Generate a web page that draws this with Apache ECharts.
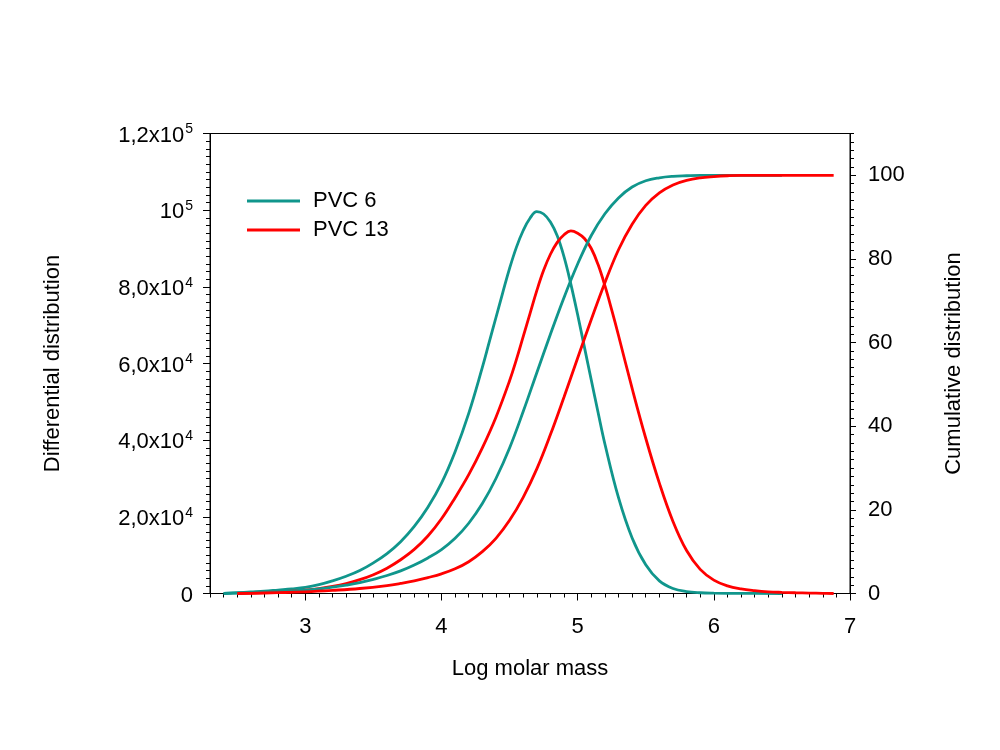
<!DOCTYPE html>
<html>
<head>
<meta charset="utf-8">
<script src="https://cdn.jsdelivr.net/npm/echarts@6/dist/echarts.min.js"></script>
<style>
html,body{margin:0;padding:0;background:#fff;}
#chart{width:1000px;height:750px;}
</style>
</head>
<body>
<div id="chart"></div>
<script>
// ---- data ----
const pvc6DiffX = [2.4, 2.5, 2.6, 2.7, 2.8, 2.9, 3.0, 3.1, 3.2, 3.3, 3.4, 3.5, 3.6, 3.7, 3.8, 3.9, 4.0, 4.1, 4.2, 4.3, 4.35, 4.4, 4.45, 4.5, 4.55, 4.6, 4.65, 4.7, 4.75, 4.8, 4.85, 4.9, 4.95, 5.0, 5.05, 5.1, 5.15, 5.2, 5.3, 5.4, 5.5, 5.6, 5.7, 5.8, 5.9, 6.0, 6.2, 6.5];
const pvc6DiffK = [0, 0.2, 0.4, 0.6, 0.9, 1.2, 1.6, 2.3, 3.3, 4.5, 6.0, 8.0, 10.4, 13.5, 17.5, 22.5, 28.8, 37, 47, 59, 65.5, 72, 78.5, 84.8, 90.3, 94.7, 97.9, 99.6, 99.0, 96.9, 93.3, 87.8, 80.7, 72.7, 64.2, 55.7, 47.2, 39, 25, 14.5, 7.5, 3.3, 1.3, 0.5, 0.2, 0.1, 0.03, 0];

const pvc13DiffX = [2.5, 2.6, 2.7, 2.8, 2.9, 3.0, 3.1, 3.2, 3.3, 3.4, 3.5, 3.6, 3.7, 3.8, 3.9, 4.0, 4.1, 4.2, 4.3, 4.4, 4.5, 4.55, 4.6, 4.65, 4.7, 4.75, 4.8, 4.85, 4.9, 4.95, 5.0, 5.05, 5.1, 5.15, 5.2, 5.25, 5.3, 5.4, 5.5, 5.6, 5.7, 5.8, 5.9, 6.0, 6.1, 6.2, 6.3, 6.4, 6.5, 6.6, 6.7, 6.8, 6.88];
const pvc13DiffK = [0, 0.1, 0.25, 0.4, 0.6, 0.9, 1.3, 1.85, 2.6, 3.6, 4.9, 6.6, 8.8, 11.5, 15, 19.5, 25, 31, 38, 46, 55.5, 61, 67, 73, 79, 84.3, 88.5, 91.6, 93.6, 94.6, 94.0, 92.6, 90, 85.8, 80.3, 74, 67.3, 53.5, 40.5, 28.8, 18.8, 11.2, 6.3, 3.5, 2.0, 1.2, 0.75, 0.45, 0.3, 0.2, 0.12, 0.05, 0];

const pvc6CumX = [2.4, 2.5, 2.6, 2.7, 2.8, 2.9, 3.0, 3.1, 3.2, 3.3, 3.4, 3.5, 3.6, 3.7, 3.8, 3.9, 4.0, 4.1, 4.2, 4.3, 4.4, 4.5, 4.6, 4.7, 4.8, 4.9, 5.0, 5.1, 5.2, 5.3, 5.4, 5.5, 5.6, 5.7, 5.8, 5.9, 6.0, 6.2, 6.5];
const pvc6Cum = [0, 0.1, 0.2, 0.3, 0.45, 0.6, 0.8, 1.1, 1.5, 2.0, 2.6, 3.4, 4.3, 5.4, 6.8, 8.5, 10.5, 13.2, 16.8, 21.5, 27.5, 34.8, 43.5, 52.8, 62, 70.8, 78.8, 85.6, 90.8, 94.6, 97.2, 98.7, 99.4, 99.75, 99.9, 100, 100, 100, 100];

const pvc13CumX = [2.5, 2.6, 2.8, 3.0, 3.2, 3.4, 3.6, 3.7, 3.8, 3.9, 4.0, 4.1, 4.2, 4.3, 4.4, 4.5, 4.6, 4.7, 4.8, 4.9, 5.0, 5.1, 5.2, 5.3, 5.4, 5.5, 5.6, 5.7, 5.8, 5.9, 6.0, 6.1, 6.2, 6.5, 6.88];
const pvc13Cum = [0, 0.05, 0.2, 0.4, 0.75, 1.2, 1.9, 2.4, 3.0, 3.8, 4.7, 5.9, 7.6, 10.0, 13.2, 17.5, 23.0, 29.8, 38, 47, 56.3, 65.5, 74.3, 82.2, 88.3, 92.8, 95.8, 97.7, 98.8, 99.4, 99.7, 99.9, 100, 100, 100];

const seriesNames = ['PVC 6', 'PVC 13'];
const xTickValues = [3, 4, 5, 6, 7];
const leftTickValues = [0, 20000, 40000, 60000, 80000, 100000, 120000];
const leftTickLabels = ['0', '2,0x10^4', '4,0x10^4', '6,0x10^4', '8,0x10^4', '10^5', '1,2x10^5'];
const rightTickValues = [0, 20, 40, 60, 80, 100];

// ---- helpers ----
const zip = (xs, ys, k) => xs.map((x, i) => [x, ys[i] * k]);
const xMinor = [];
for (let i = 23; i <= 70; i++) xMinor.push(i / 10);
const rMinor = [];
for (let v = 0; v <= 110; v += 2) rMinor.push(v);

const FONT = 'Liberation Sans, Arial, sans-serif';
const teal = '#10968c';
const red = '#ff0000';

function supLabel(str) {
  const p = str.split('^');
  if (p.length === 1) return '{b|' + p[0] + '}';
  return '{b|' + p[0] + '}{s|' + p[1] + '}';
}
const rich = {
  b: { fontSize: 22, fontFamily: FONT, color: '#000', verticalAlign: 'bottom', lineHeight: 26 },
  s: { fontSize: 14, fontFamily: FONT, color: '#000', verticalAlign: 'bottom', lineHeight: 26, padding: [0, 0, 10, 1] }
};

const chart = echarts.init(document.getElementById('chart'));
const lineCommon = { type: 'line', showSymbol: false, symbol: 'none', smooth: 0.4, animation: false };

chart.setOption({
  animation: false,
  backgroundColor: '#fff',
  grid: { left: 210, right: 150, top: 133.5, bottom: 156.5, show: true, borderColor: '#000', borderWidth: 1, backgroundColor: 'transparent' },
  legend: {
    data: seriesNames,
    orient: 'vertical',
    left: 242, top: 185,
    icon: 'rect',
    itemWidth: 53, itemHeight: 3, itemGap: 7,
    textStyle: { fontSize: 22, fontFamily: FONT, color: '#000', padding: [0, 0, 0, 8] }
  },
  xAxis: [
    {
      type: 'value', min: 2.3, max: 7, position: 'bottom',
      name: 'Log molar mass', nameLocation: 'middle', nameGap: 64,
      nameTextStyle: { fontSize: 22, fontFamily: FONT, color: '#000' },
      axisLine: { show: true, lineStyle: { color: '#000', width: 1 } },
      axisTick: { show: true, customValues: xTickValues, length: 7, lineStyle: { color: '#000' } },
      axisLabel: { customValues: xTickValues, fontSize: 22, fontFamily: FONT, color: '#000', margin: 22 },
      splitLine: { show: false }
    },
    {
      type: 'value', min: 2.3, max: 7, position: 'bottom',
      axisLine: { show: false },
      axisTick: { show: true, customValues: xMinor, length: 4, lineStyle: { color: '#000' } },
      axisLabel: { show: false },
      splitLine: { show: false }
    }
  ],
  yAxis: [
    {
      type: 'value', min: 0, max: 120000, interval: 20000, position: 'left',
      name: 'Differential distribution', nameLocation: 'middle', nameGap: 146,
      nameTextStyle: { fontSize: 22, fontFamily: FONT, color: '#000' },
      axisLine: { show: true, lineStyle: { color: '#000', width: 1 } },
      axisTick: { show: true, length: 7, lineStyle: { color: '#000' } },
      minorTick: { show: true, splitNumber: 10, length: 4, lineStyle: { color: '#000' } },
      axisLabel: {
        margin: 17,
        formatter: v => supLabel(leftTickLabels[leftTickValues.indexOf(v)] ?? String(v)),
        rich: rich
      },
      splitLine: { show: false }, minorSplitLine: { show: false }
    },
    {
      type: 'value', min: 0, max: 110, position: 'right',
      name: 'Cumulative distribution', nameLocation: 'middle', nameGap: 93,
      nameTextStyle: { fontSize: 22, fontFamily: FONT, color: '#000' },
      axisLine: { show: true, lineStyle: { color: '#000', width: 1 } },
      axisTick: { show: true, customValues: rightTickValues, length: 6, lineStyle: { color: '#000' } },
      axisLabel: { customValues: rightTickValues, fontSize: 22, fontFamily: FONT, color: '#000', margin: 18 },
      splitLine: { show: false }
    },
    {
      type: 'value', min: 0, max: 110, position: 'right',
      axisLine: { show: false },
      axisTick: { show: true, customValues: rMinor, length: 4, lineStyle: { color: '#000' } },
      axisLabel: { show: false },
      splitLine: { show: false }
    }
  ],
  series: [
    Object.assign({}, lineCommon, { name: seriesNames[0], xAxisIndex: 0, yAxisIndex: 0, data: zip(pvc6DiffX, pvc6DiffK, 1000), lineStyle: { color: teal, width: 2.8 }, itemStyle: { color: teal } }),
    Object.assign({}, lineCommon, { name: seriesNames[1], xAxisIndex: 0, yAxisIndex: 0, data: zip(pvc13DiffX, pvc13DiffK, 1000), lineStyle: { color: red, width: 2.8 }, itemStyle: { color: red } }),
    Object.assign({}, lineCommon, { name: seriesNames[0], xAxisIndex: 0, yAxisIndex: 1, data: zip(pvc6CumX, pvc6Cum, 1), lineStyle: { color: teal, width: 2.8 }, itemStyle: { color: teal } }),
    Object.assign({}, lineCommon, { name: seriesNames[1], xAxisIndex: 0, yAxisIndex: 1, data: zip(pvc13CumX, pvc13Cum, 1), lineStyle: { color: red, width: 2.8 }, itemStyle: { color: red } })
  ]
});
</script>
</body>
</html>
